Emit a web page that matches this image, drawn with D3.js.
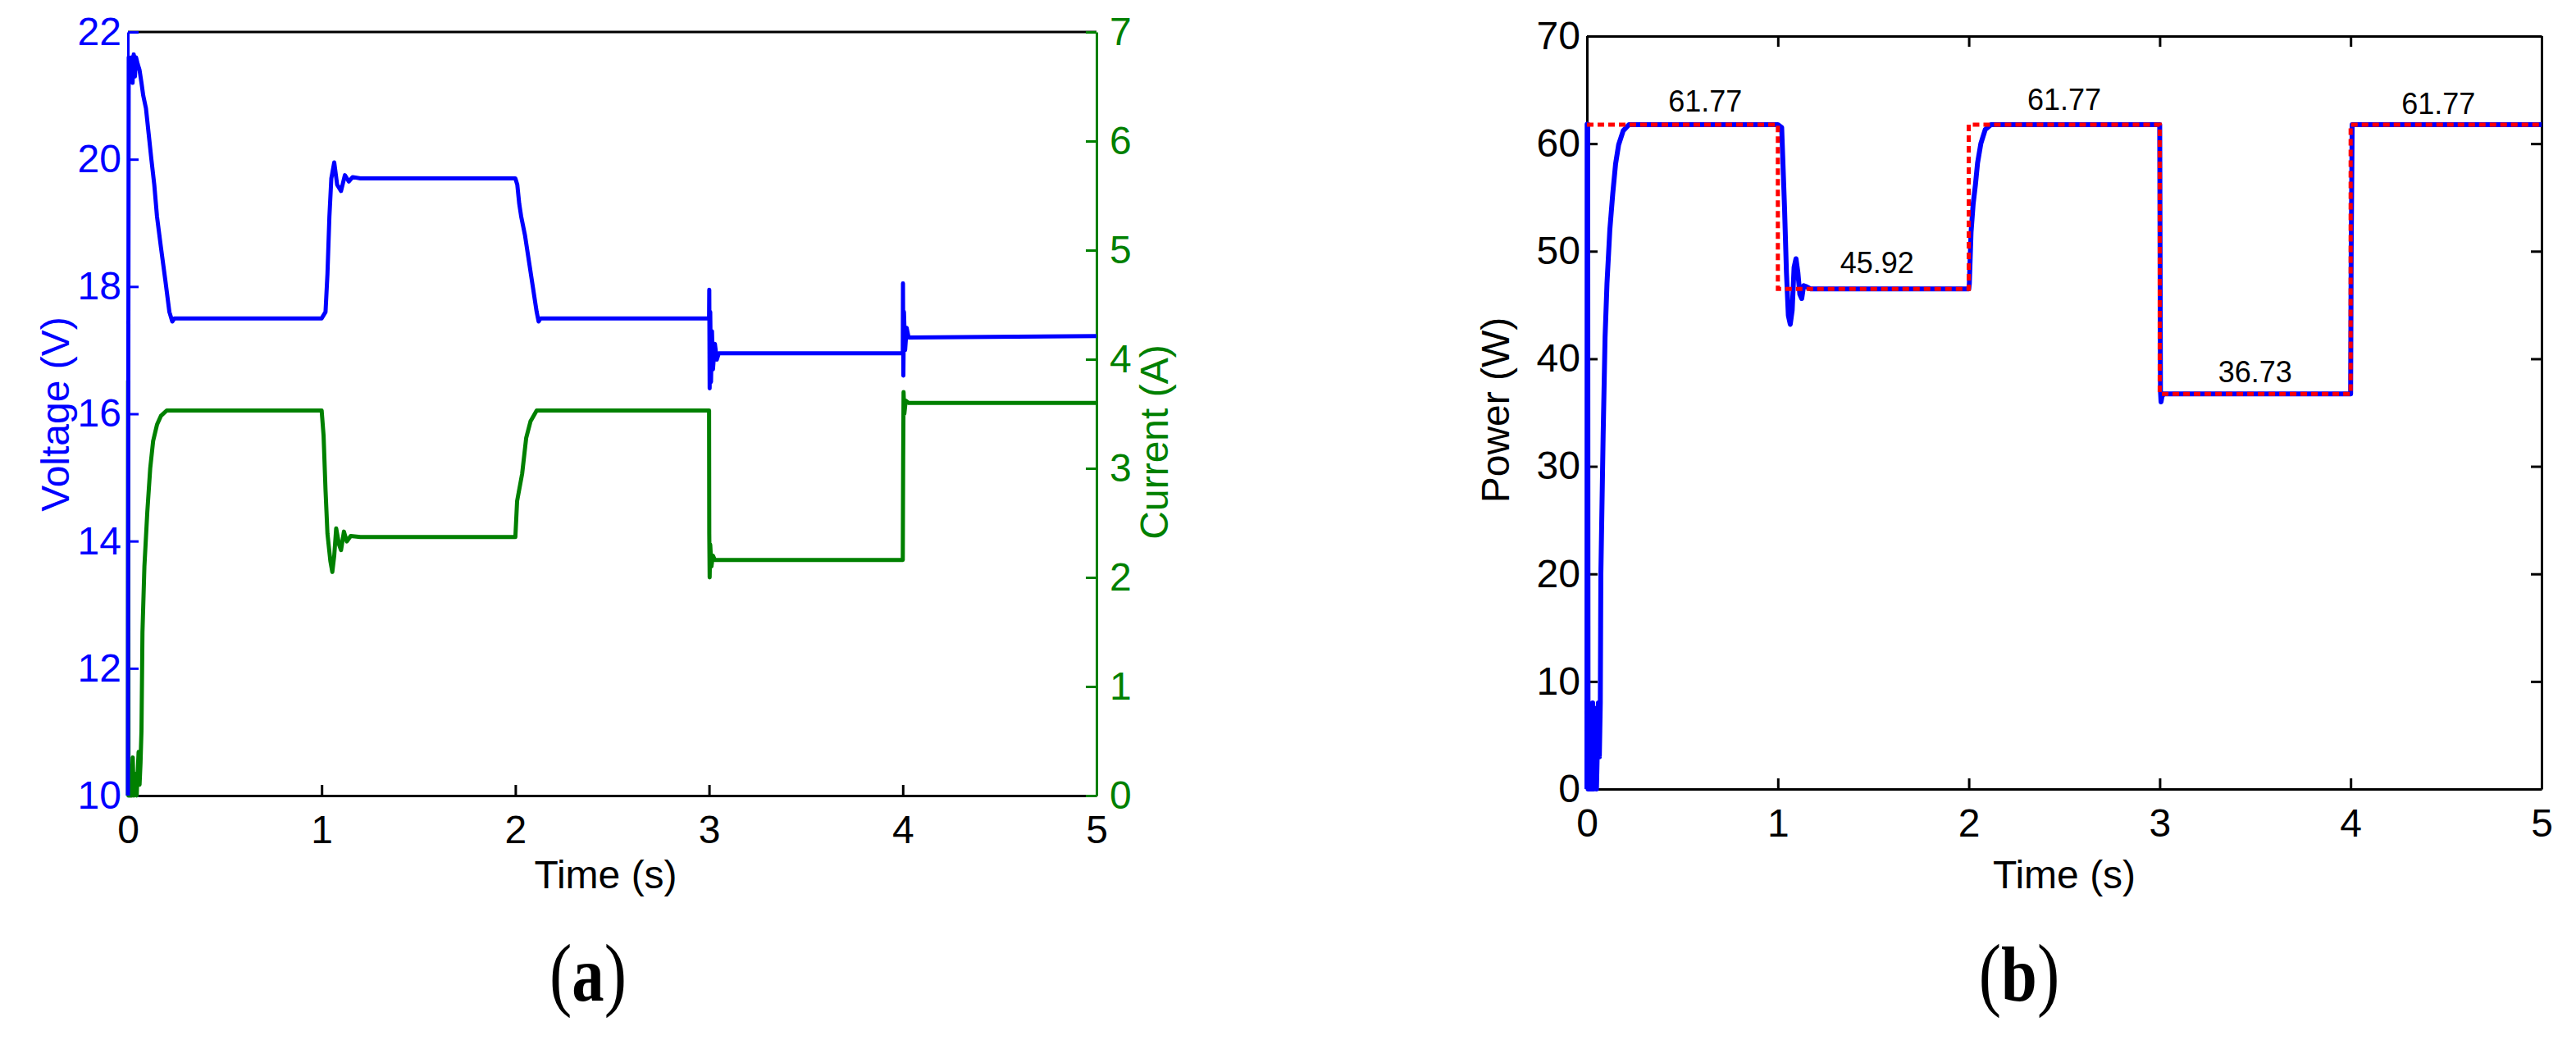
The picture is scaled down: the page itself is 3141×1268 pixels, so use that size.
<!DOCTYPE html>
<html>
<head>
<meta charset="utf-8">
<script src="https://cdn.jsdelivr.net/npm/d3@7"></script>
<style>
  html, body { margin: 0; padding: 0; background: #fff; }
  svg { display: block; }
</style>
</head>
<body>
<svg id="chart" width="3141" height="1268"></svg>
<script>
// ---------------- DATA ----------------
// Panel (a): PV voltage (V) and current (A) vs time (s)
const timeTicks = [0, 1, 2, 3, 4, 5];
const voltTicks = [10, 12, 14, 16, 18, 20, 22];
const currTicks = [0, 1, 2, 3, 4, 5, 6, 7];
const powerTicks = [0, 10, 20, 30, 40, 50, 60, 70];

const voltTime = [0, 0.002, 0.004, 0.006, 0.012, 0.018, 0.024, 0.03, 0.036, 0.042, 0.05, 0.06, 0.07,
  0.079, 0.093, 0.107, 0.121, 0.136, 0.15, 0.171, 0.193, 0.214, 0.229, 0.24,
  1.0, 1.02, 1.03, 1.04, 1.05, 1.065, 1.08, 1.1, 1.12, 1.14, 1.16, 1.2,
  2.0, 2.01, 2.02, 2.03, 2.05, 2.07, 2.09, 2.11, 2.12, 2.13,
  3.0, 3.001, 3.003, 3.006, 3.01, 3.015, 3.02, 3.03, 3.04, 3.05,
  4.0, 4.001, 4.003, 4.006, 4.012, 4.02, 4.03, 5.0];
const voltValue = [10, 16.8, 21.6, 21.5, 21.3, 21.6, 21.2, 21.65, 21.3, 21.6, 21.5, 21.4, 21.2,
  21.0, 20.8, 20.4, 20.0, 19.6, 19.1, 18.6, 18.1, 17.6, 17.45, 17.5,
  17.5, 17.6, 18.2, 19.1, 19.7, 19.95, 19.6, 19.5, 19.75, 19.65, 19.72, 19.7,
  19.7, 19.6, 19.3, 19.1, 18.8, 18.4, 18.0, 17.6, 17.45, 17.5,
  17.5, 17.95, 16.4, 17.6, 16.5, 17.3, 16.7, 17.1, 16.85, 16.95,
  16.95, 18.05, 16.6, 17.6, 17.0, 17.35, 17.2, 17.22];

const currTime = [0, 0.001, 0.003, 0.02, 0.025, 0.03, 0.04, 0.045, 0.055, 0.06, 0.065, 0.07,
  0.075, 0.085, 0.1, 0.115, 0.13, 0.15, 0.17, 0.2,
  1.0, 1.01, 1.02, 1.03, 1.045, 1.055, 1.065, 1.075, 1.09, 1.1, 1.115, 1.13, 1.15, 1.2,
  2.0, 2.009, 2.035, 2.056, 2.078, 2.11,
  3.0, 3.001, 3.003, 3.006, 3.012, 3.02, 3.03,
  4.0, 4.002, 4.004, 4.008, 4.015, 4.03, 5.0];
const currValue = [0, 3.8, 0, 0, 0.35, 0, 0.2, 0, 0.4, 0.1, 0.3, 0.6,
  1.5, 2.1, 2.6, 3.0, 3.25, 3.4, 3.48, 3.53,
  3.53, 3.3, 2.8, 2.4, 2.15, 2.05, 2.2, 2.45, 2.3, 2.25, 2.42, 2.33, 2.38, 2.37,
  2.37, 2.7, 2.95, 3.28, 3.43, 3.53,
  3.53, 2.4, 2.0, 2.3, 2.1, 2.2, 2.16,
  2.16, 3.1, 3.7, 3.5, 3.62, 3.6, 3.6];

// Panel (b): PV power (W) vs time (s), measured and reference (MPP)
const powTime = [0, 0.001, 0.004, 0.006, 0.015, 0.02, 0.025, 0.03, 0.035, 0.045, 0.05, 0.06, 0.065, 0.07,
  0.073, 0.085, 0.095, 0.105, 0.12, 0.135, 0.15, 0.166, 0.19, 0.22,
  1.0, 1.02, 1.025, 1.035, 1.045, 1.055, 1.065, 1.075, 1.085, 1.095, 1.105, 1.115, 1.125, 1.135, 1.15, 1.17, 1.2,
  2.0, 2.003, 2.012, 2.023, 2.035, 2.046, 2.063, 2.086, 2.116,
  3.0, 3.002, 3.004, 3.007, 3.012, 3.02,
  4.0, 4.003, 4.008, 5.0];
const powValue = [0, 61.8, 61.8, 0, 0, 7, 0, 8, 0, 7.5, 0, 8, 3, 8,
  20, 33, 42, 47, 52, 55.3, 58.1, 59.9, 61.2, 61.77,
  61.77, 61.5, 59, 54, 48, 44, 43.2, 44.5, 48.5, 49.3, 48, 46, 45.6, 46.8, 46.7, 46.5, 46.5,
  46.5, 47, 51.8, 54.4, 56.2, 58.2, 60, 61.3, 61.77,
  61.77, 50, 37, 36.0, 36.5, 36.73,
  36.73, 50, 61.77, 61.77];

const refTime = [0, 1, 1, 2, 2, 3, 3, 4, 4, 5];
const refValue = [61.77, 61.77, 46.5, 46.5, 61.77, 61.77, 36.73, 36.73, 61.77, 61.77];

const mppLabels = ["61.77", "45.92", "61.77", "36.73", "61.77"];
const mppLabelTime = [0.62, 1.52, 2.5, 3.5, 4.46];
const mppLabelPower = [63.0, 48.0, 63.15, 37.85, 62.75];

// ---------------- DRAWING ----------------
const SANS = "'Liberation Sans', Arial, Helvetica, sans-serif";
const SERIF = "'Liberation Serif', 'Times New Roman', Times, serif";
const BLUE = "#0000ff", GREEN = "#008000", RED = "#ff0000";
const svg = d3.select("#chart");
svg.append("rect").attr("width", 3141).attr("height", 1268).attr("fill", "#fff");

function styleAxis(g, color) {
  g.selectAll(".domain").attr("stroke", color).attr("stroke-width", 3);
  g.selectAll(".tick line").attr("stroke", color).attr("stroke-width", 3);
  g.selectAll(".tick text").attr("fill", color).style("font-size", "48px")
    .style("font-family", SANS);
}
function label(x, y, txt, color, rotate) {
  return svg.append("text")
    .attr("transform", `translate(${x},${y})` + (rotate ? " rotate(-90)" : ""))
    .attr("text-anchor", "middle")
    .style("font-family", SANS).style("font-size", "48px")
    .attr("fill", color).text(txt);
}

// ----- Panel (a) -----
const A = { x0: 156, x1: 1337, y0: 39, y1: 970 };
const xA = d3.scaleLinear().domain([0, 5]).range([A.x0, A.x1]);
const yV = d3.scaleLinear().domain([10, 22]).range([A.y1, A.y0]);
const yI = d3.scaleLinear().domain([0, 7]).range([A.y1, A.y0]);

// top border (no ticks)
svg.append("line").attr("x1", A.x0).attr("x2", A.x1).attr("y1", A.y0).attr("y2", A.y0)
  .attr("stroke", "#000").attr("stroke-width", 3);

const gAx = svg.append("g").attr("transform", `translate(0,${A.y1})`)
  .call(d3.axisBottom(xA).tickValues(timeTicks).tickSize(-13).tickSizeOuter(0).tickPadding(24).tickFormat(d3.format("d")));
styleAxis(gAx, "#000");

const gAi = svg.append("g").attr("transform", `translate(${A.x1},0)`)
  .call(d3.axisRight(yI).tickValues(currTicks).tickSize(-13).tickSizeOuter(0).tickPadding(16).tickFormat(d3.format("d")));
styleAxis(gAi, GREEN);

const gAv = svg.append("g").attr("transform", `translate(${A.x0},0)`)
  .call(d3.axisLeft(yV).tickValues(voltTicks).tickSize(-13).tickSizeOuter(0).tickPadding(8).tickFormat(d3.format("d")));
styleAxis(gAv, BLUE);

const lineV = d3.line().x((d, i) => xA(voltTime[i])).y(d => yV(d));
const lineI = d3.line().x((d, i) => xA(currTime[i])).y(d => yI(d));

svg.append("path").attr("d", lineI(currValue)).attr("fill", "none")
  .attr("stroke", GREEN).attr("stroke-width", 5).attr("stroke-linejoin", "round");
svg.append("path").attr("d", lineV(voltValue)).attr("fill", "none")
  .attr("stroke", BLUE).attr("stroke-width", 5).attr("stroke-linejoin", "round");

label(84, 505, "Voltage (V)", BLUE, true);
label(1424, 539, "Current (A)", GREEN, true);
label((A.x0 + A.x1) / 2 - 8, 1083, "Time (s)", "#000", false);

function panelTag(x, letter) {
  const t = svg.append("text")
    .attr("transform", `translate(${x},1220) scale(0.82,1)`)
    .attr("text-anchor", "middle")
    .style("font-family", SERIF).style("font-size", "100px")
    .attr("fill", "#000");
  t.append("tspan").text("(");
  t.append("tspan").style("font-weight", "bold").style("font-size", "96px").text(letter);
  t.append("tspan").text(")");
}
panelTag(717, "a");

// ----- Panel (b) -----
const B = { x0: 1935, x1: 3099, y0: 44, y1: 962 };
const xB = d3.scaleLinear().domain([0, 5]).range([B.x0, B.x1]);
const yP = d3.scaleLinear().domain([0, 70]).range([B.y1, B.y0]);

const gBt = svg.append("g").attr("transform", `translate(0,${B.y0})`)
  .call(d3.axisTop(xB).tickValues(timeTicks).tickSize(-13).tickSizeOuter(0).tickFormat(""));
styleAxis(gBt, "#000");
const gBr = svg.append("g").attr("transform", `translate(${B.x1},0)`)
  .call(d3.axisRight(yP).tickValues(powerTicks).tickSize(-13).tickSizeOuter(0).tickFormat(""));
styleAxis(gBr, "#000");
const gBx = svg.append("g").attr("transform", `translate(0,${B.y1})`)
  .call(d3.axisBottom(xB).tickValues(timeTicks).tickSize(-13).tickSizeOuter(0).tickPadding(24).tickFormat(d3.format("d")));
styleAxis(gBx, "#000");
const gBy = svg.append("g").attr("transform", `translate(${B.x0},0)`)
  .call(d3.axisLeft(yP).tickValues(powerTicks).tickSize(-13).tickSizeOuter(0).tickPadding(8).tickFormat(d3.format("d")));
styleAxis(gBy, "#000");

const lineP = d3.line().x((d, i) => xB(powTime[i])).y(d => yP(d));
const lineR = d3.line().x((d, i) => xB(refTime[i])).y(d => yP(d));
svg.append("path").attr("d", lineP(powValue)).attr("fill", "none")
  .attr("stroke", BLUE).attr("stroke-width", 6).attr("stroke-linejoin", "round");
svg.append("path").attr("d", lineR(refValue)).attr("fill", "none")
  .attr("stroke", RED).attr("stroke-width", 5).attr("stroke-dasharray", "8,5");

svg.selectAll(".mpp").data(mppLabels).enter().append("text")
  .attr("x", (d, i) => xB(mppLabelTime[i])).attr("y", (d, i) => yP(mppLabelPower[i]))
  .attr("text-anchor", "middle")
  .style("font-family", SANS).style("font-size", "36px")
  .attr("fill", "#000").text(d => d);

label(1840, 500, "Power (W)", "#000", true);
label((B.x0 + B.x1) / 2, 1083, "Time (s)", "#000", false);
panelTag(2462, "b");
</script>
</body>
</html>
